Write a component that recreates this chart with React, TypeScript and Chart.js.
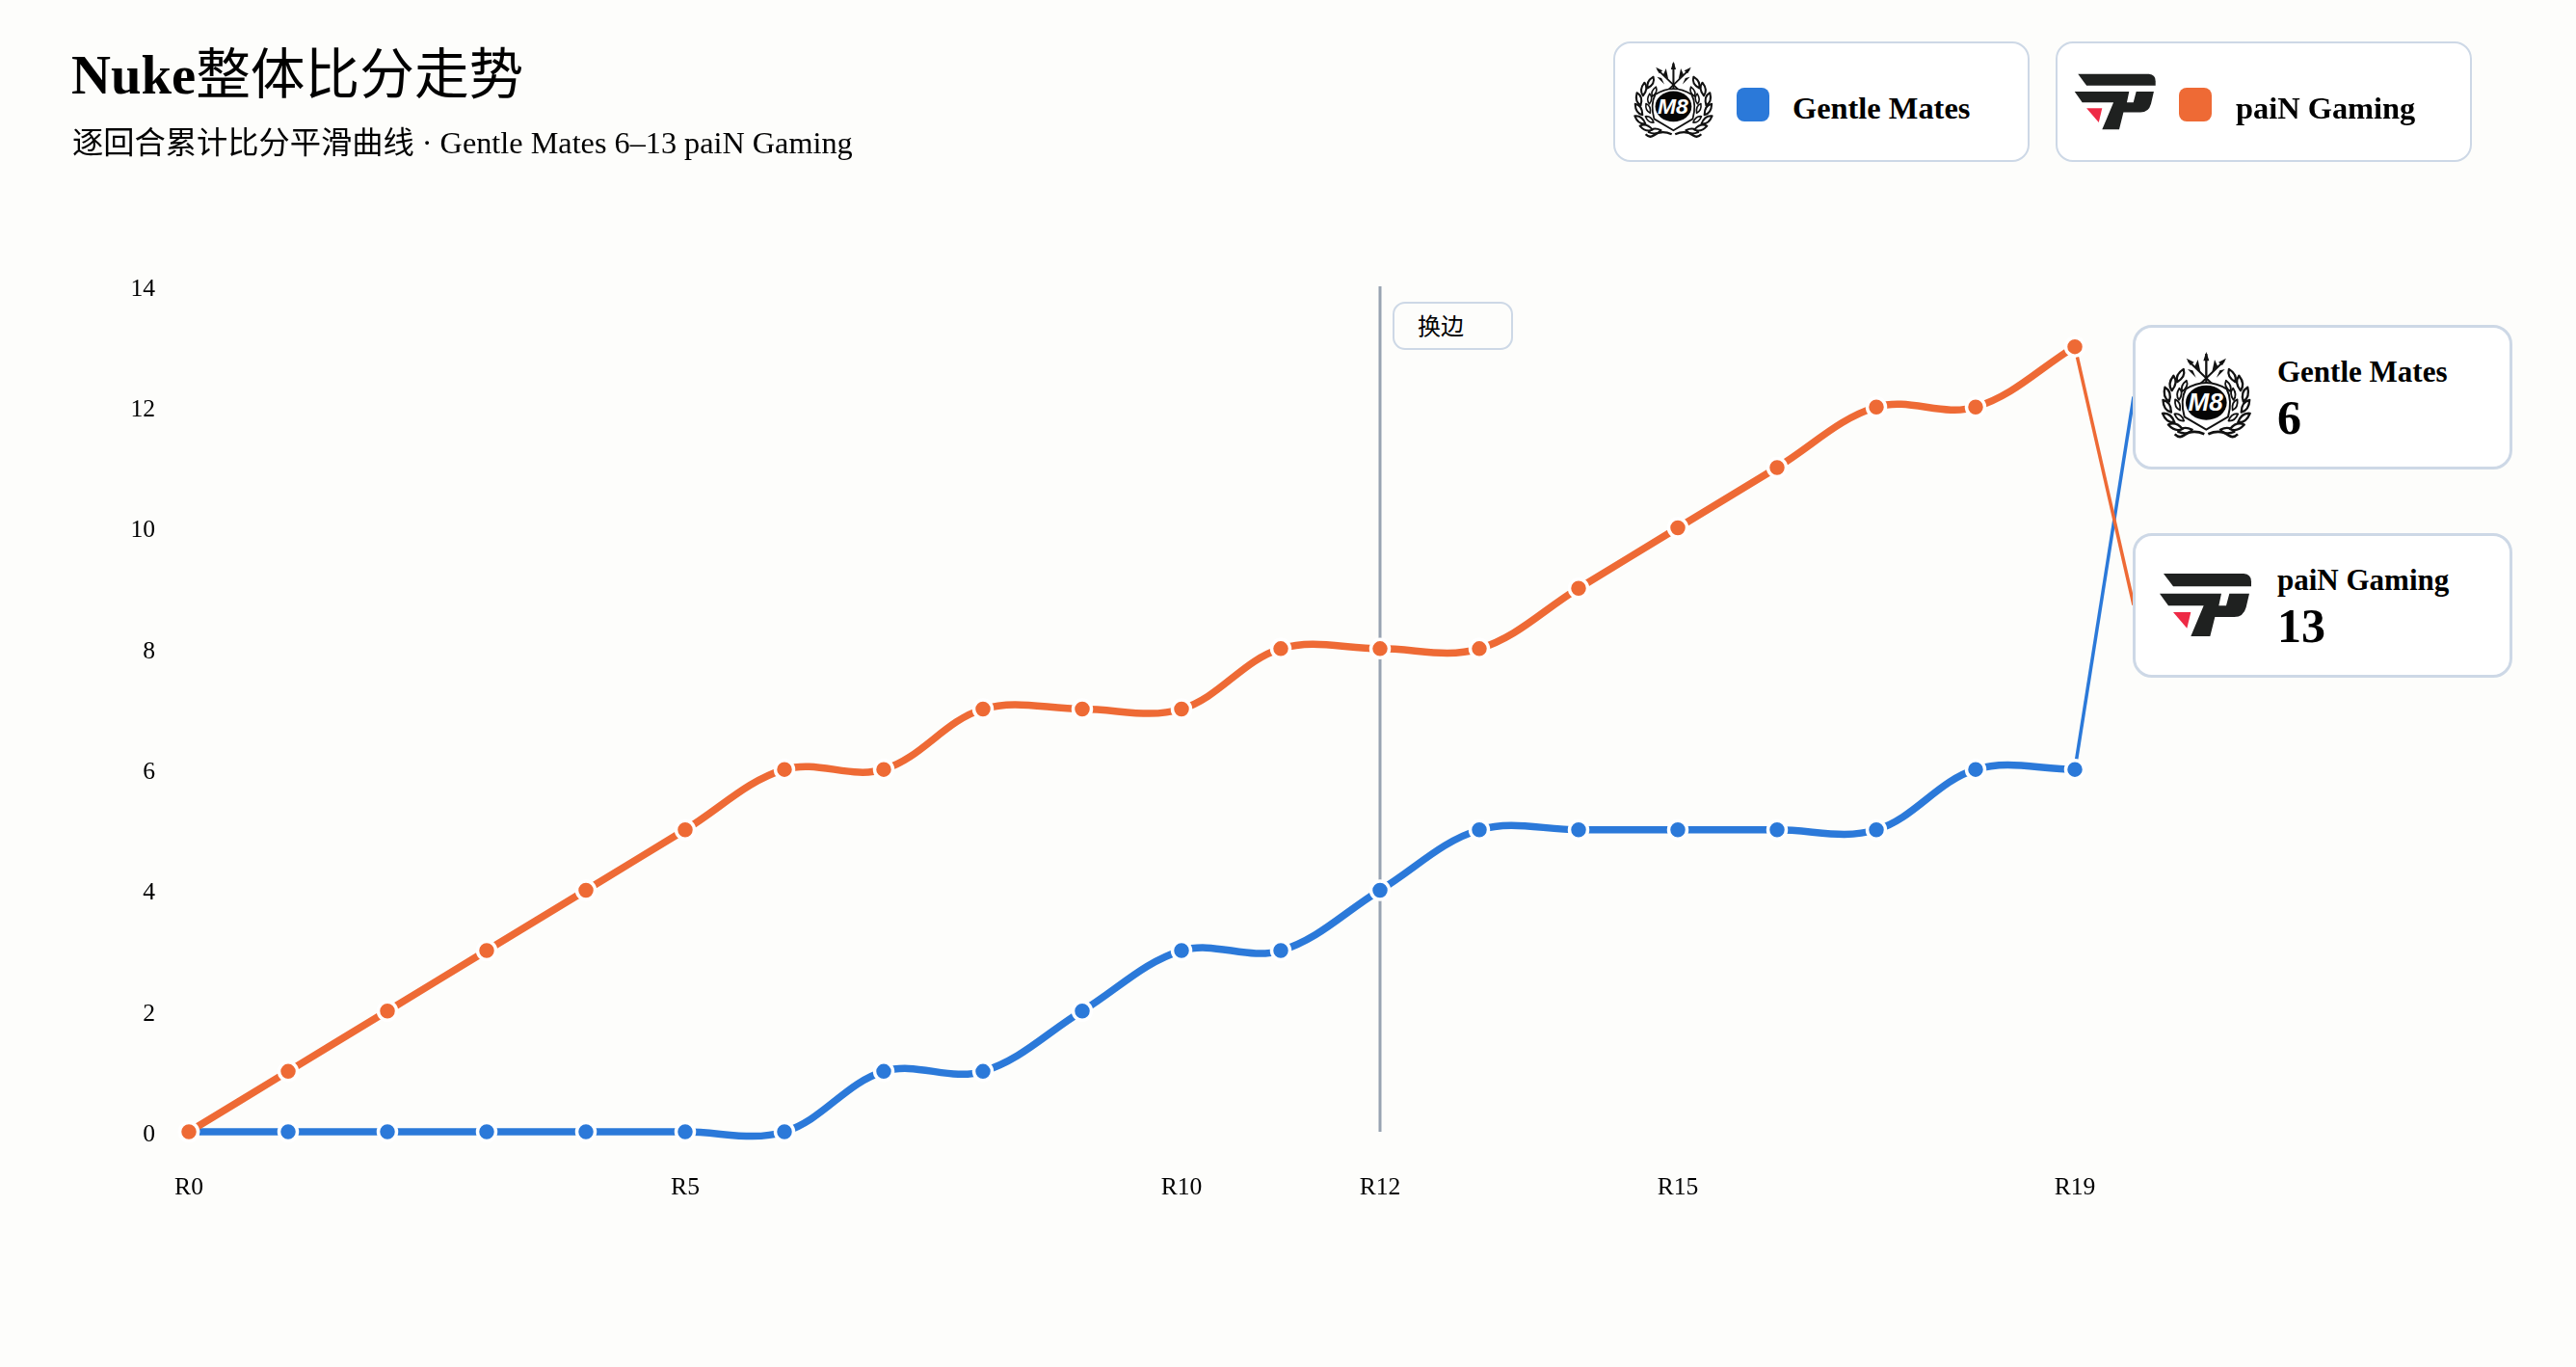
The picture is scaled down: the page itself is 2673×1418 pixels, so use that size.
import React, { useEffect, useRef } from "react";
import { Chart, registerables } from "chart.js";

Chart.register(...registerables);

const rounds = ["R0","R1","R2","R3","R4","R5","R6","R7","R8","R9","R10","R11","R12","R13","R14","R15","R16","R17","R18","R19"];
const shownRounds = ["R0","R5","R10","R12","R15","R19"];
const gentleMates = [0,0,0,0,0,0,0,1,1,2,3,3,4,5,5,5,5,5,6,6];
const painGaming = [0,1,2,3,4,5,6,6,7,7,7,8,8,8,9,10,11,12,12,13];
const sideRound = "R12";
const sideLabel = "换边";
const blue = "#2b79d9";
const orange = "#ee6a35";
const borderColor = "#cdd8e6";
const FONT = "'Liberation Serif', 'Noto Sans CJK SC', sans-serif";

const leaves: [number, number, number, number][] = [
  [130, 272, 180, 1.1], [100, 268, 205, 1.15], [76, 246, 225, 1.15], [67, 214, 245, 1.15],
  [62, 180, 262, 1.15], [72, 146, 285, 1.15], [90, 120, 305, 1.1],
  [106, 242, 225, 0.9], [95, 208, 255, 0.9], [94, 176, 280, 0.9], [105, 150, 300, 0.9],
];

function M8Logo({ left, top, scale }: { left: number; top: number; scale: number }) {
  const half = (
    <g>
      {leaves.map(([x, y, r, s], i) => (
        <path key={i} transform={`translate(${x},${y}) rotate(${r}) scale(${s})`}
          d="M-4,0 Q10,-17 36,-6 Q22,12 -4,0 Z" fill="#fff" stroke="#111" strokeWidth={6} strokeLinejoin="round" />
      ))}
      <path d="M172,286 Q135,270 108,290 Q94,300 80,286" fill="none" stroke="#111" strokeWidth={8} />
      <line x1="122" y1="58" x2="202" y2="135" stroke="#111" strokeWidth={6} />
      <path d="M116,50 L140,62 L128,72 Z" fill="#111" />
      <path d="M142,76 L152,54 L160,92 Z" fill="#111" />
      <path d="M136,88 L120,84 L146,110 Z" fill="#111" />
    </g>
  );
  return (
    <svg style={{ position: "absolute", left, top, overflow: "visible" }} width={120 * scale} height={110 * scale} viewBox="0 0 360 330">
      {half}
      <g transform="translate(356,0) scale(-1,1)">{half}</g>
      <line x1="178" y1="36" x2="178" y2="125" stroke="#111" strokeWidth={7} />
      <path d="M178,30 L187,58 L169,58 Z" fill="#111" />
      <path d="M178,272 L110,232 Q96,180 114,146 Q178,106 242,146 Q260,180 246,232 Z" fill="#fff" stroke="#111" strokeWidth={6} />
      <ellipse cx="178" cy="188" rx="64" ry="54" fill="#050505" />
      <text x="176" y="213" textAnchor="middle" fontFamily="'Liberation Sans', sans-serif" fontWeight="700" fontStyle="italic" fontSize="78" fill="#fff">M8</text>
    </svg>
  );
}

function PainLogo({ left, top, scale }: { left: number; top: number; scale: number }) {
  return (
    <svg style={{ position: "absolute", left, top }} width={120 * scale} height={80 * scale} viewBox="0 0 360 240">
      <path d="M45,30 L295,30 Q318,32 318,55 L318,70 L75,70 Z" fill="#1f2120" />
      <path d="M33,92 L225,92 L217,130 L240,130 L250,92 L312,92 L302,135 Q294,165 265,165 L205,165 L190,225 L130,225 L170,130 L60,130 Z" fill="#1f2120" />
      <path d="M75,150 L130,150 L118,200 Z" fill="#ee2a45" />
    </svg>
  );
}

const cardStyle = (left: number, top: number, width: number, height: number, radius: number, bw = 3): React.CSSProperties => ({
  position: "absolute", left, top, width, height, borderRadius: radius,
  border: `${bw}px solid ${borderColor}`, background: "#fff", boxSizing: "border-box",
});

const textStyle = (left: number, top: number, size: number, bold = false): React.CSSProperties => ({
  position: "absolute", left, top, fontSize: size, lineHeight: `${size}px`, fontFamily: FONT,
  fontWeight: bold ? 700 : 400, color: "#000", whiteSpace: "nowrap", margin: 0,
});

export default function App() {
  const ref = useRef<HTMLCanvasElement>(null);
  useEffect(() => {
    const guide = {
      id: "guide",
      beforeDatasetsDraw(chart: any) {
        const { ctx, scales: { x, y }, chartArea } = chart;
        ctx.save();
        const gx = x.getPixelForValue(rounds.indexOf(sideRound));
        ctx.strokeStyle = "#98a3b1";
        ctx.lineWidth = 3;
        ctx.beginPath();
        ctx.moveTo(gx, chartArea.top);
        ctx.lineTo(gx, chartArea.bottom);
        ctx.stroke();
        const last = rounds.length - 1;
        const lead = (vals: number[], color: string, endY: number) => {
          ctx.strokeStyle = color;
          ctx.lineWidth = 3.5;
          ctx.beginPath();
          ctx.moveTo(x.getPixelForValue(last), y.getPixelForValue(vals[last]));
          ctx.lineTo(2214, endY);
          ctx.stroke();
        };
        lead(gentleMates, blue, 411.5);
        lead(painGaming, orange, 627.5);
        ctx.restore();
      },
    };
    const ds = (label: string, data: number[], color: string, order: number) => ({
      label, data, order, borderColor: color, backgroundColor: color, borderWidth: 7.5,
      tension: 0.36, capBezierPoints: false, pointRadius: 9.5, pointBorderWidth: 3.5, pointBorderColor: "#fff",
      pointBackgroundColor: color, clip: false as any, cubicInterpolationMode: "default" as const,
    });
    const chart = new Chart(ref.current!, {
      type: "line",
      data: {
        labels: rounds,
        datasets: [ds("Gentle Mates", gentleMates, blue, 2), ds("paiN Gaming", painGaming, orange, 1)],
      },
      options: {
        responsive: false, animation: false, devicePixelRatio: 1,
        layout: { padding: { top: 297, right: 520, left: 0, bottom: 0 } },
        plugins: { legend: { display: false }, title: { display: false }, tooltip: { enabled: false } },
        scales: {
          x: {
            type: "category", offset: false, grid: { display: false, drawTicks: false }, border: { display: false },
            afterFit: (s: any) => { s.height = 244; },
            ticks: {
              autoSkip: false, maxRotation: 0, minRotation: 0, padding: 42.5, color: "#000",
              font: { family: FONT, size: 25.6 },
              callback: (_v: any, i: number) => (shownRounds.includes(rounds[i]) ? rounds[i] : ""),
            },
          },
          y: {
            min: 0, max: 14, grid: { display: false, drawTicks: false }, border: { display: false },
            afterFit: (s: any) => { s.width = 196; },
            ticks: { stepSize: 2, padding: 35, labelOffset: 3.2, color: "#000", font: { family: FONT, size: 25.6 } },
          },
        },
      },
      plugins: [guide],
    } as any);
    return () => chart.destroy();
  }, []);

  return (
    <div style={{ position: "fixed", left: 0, top: 0, width: 2673, height: 1418, background: "#fdfdfb", overflow: "hidden" }}>
      <canvas ref={ref} width={2673} height={1418} style={{ position: "absolute", left: 0, top: 0, width: 2673, height: 1418 }} />
      <div style={textStyle(74, 50, 56.7, true)}>Nuke<span style={{ fontWeight: 400 }}>整体比分走势</span></div>
      <div style={textStyle(75, 132, 32.25)}>逐回合累计比分平滑曲线 · Gentle Mates 6–13 paiN Gaming</div>

      <div style={cardStyle(1674, 43, 432, 125, 18, 2)} />
      <M8Logo left={1684} top={55} scale={0.884} />
      <div style={{ position: "absolute", left: 1802, top: 91, width: 34, height: 35, borderRadius: 8, background: blue }} />
      <div style={textStyle(1860, 96, 32.4, true)}>Gentle Mates</div>

      <div style={cardStyle(2133, 43, 432, 125, 18, 2)} />
      <PainLogo left={2143.3} top={68.2} scale={0.884} />
      <div style={{ position: "absolute", left: 2261, top: 91, width: 34, height: 35, borderRadius: 8, background: orange }} />
      <div style={textStyle(2320, 96, 32.4, true)}>paiN Gaming</div>

      <div style={{ ...cardStyle(1445, 313, 125, 50, 13, 2), background: "#fdfdfb" }} />
      <div style={textStyle(1471, 327, 24)}>{sideLabel}</div>

      <div style={cardStyle(2213, 337, 394, 150, 20)} />
      <M8Logo left={2230} top={355} scale={1} />
      <div style={textStyle(2363, 370, 31, true)}>Gentle Mates</div>
      <div style={textStyle(2363, 408, 50, true)}>{gentleMates[gentleMates.length - 1]}</div>

      <div style={cardStyle(2213, 553, 394, 150, 20)} />
      <PainLogo left={2230} top={585} scale={1} />
      <div style={textStyle(2363, 586, 31, true)}>paiN Gaming</div>
      <div style={textStyle(2363, 624, 50, true)}>{painGaming[painGaming.length - 1]}</div>
    </div>
  );
}
